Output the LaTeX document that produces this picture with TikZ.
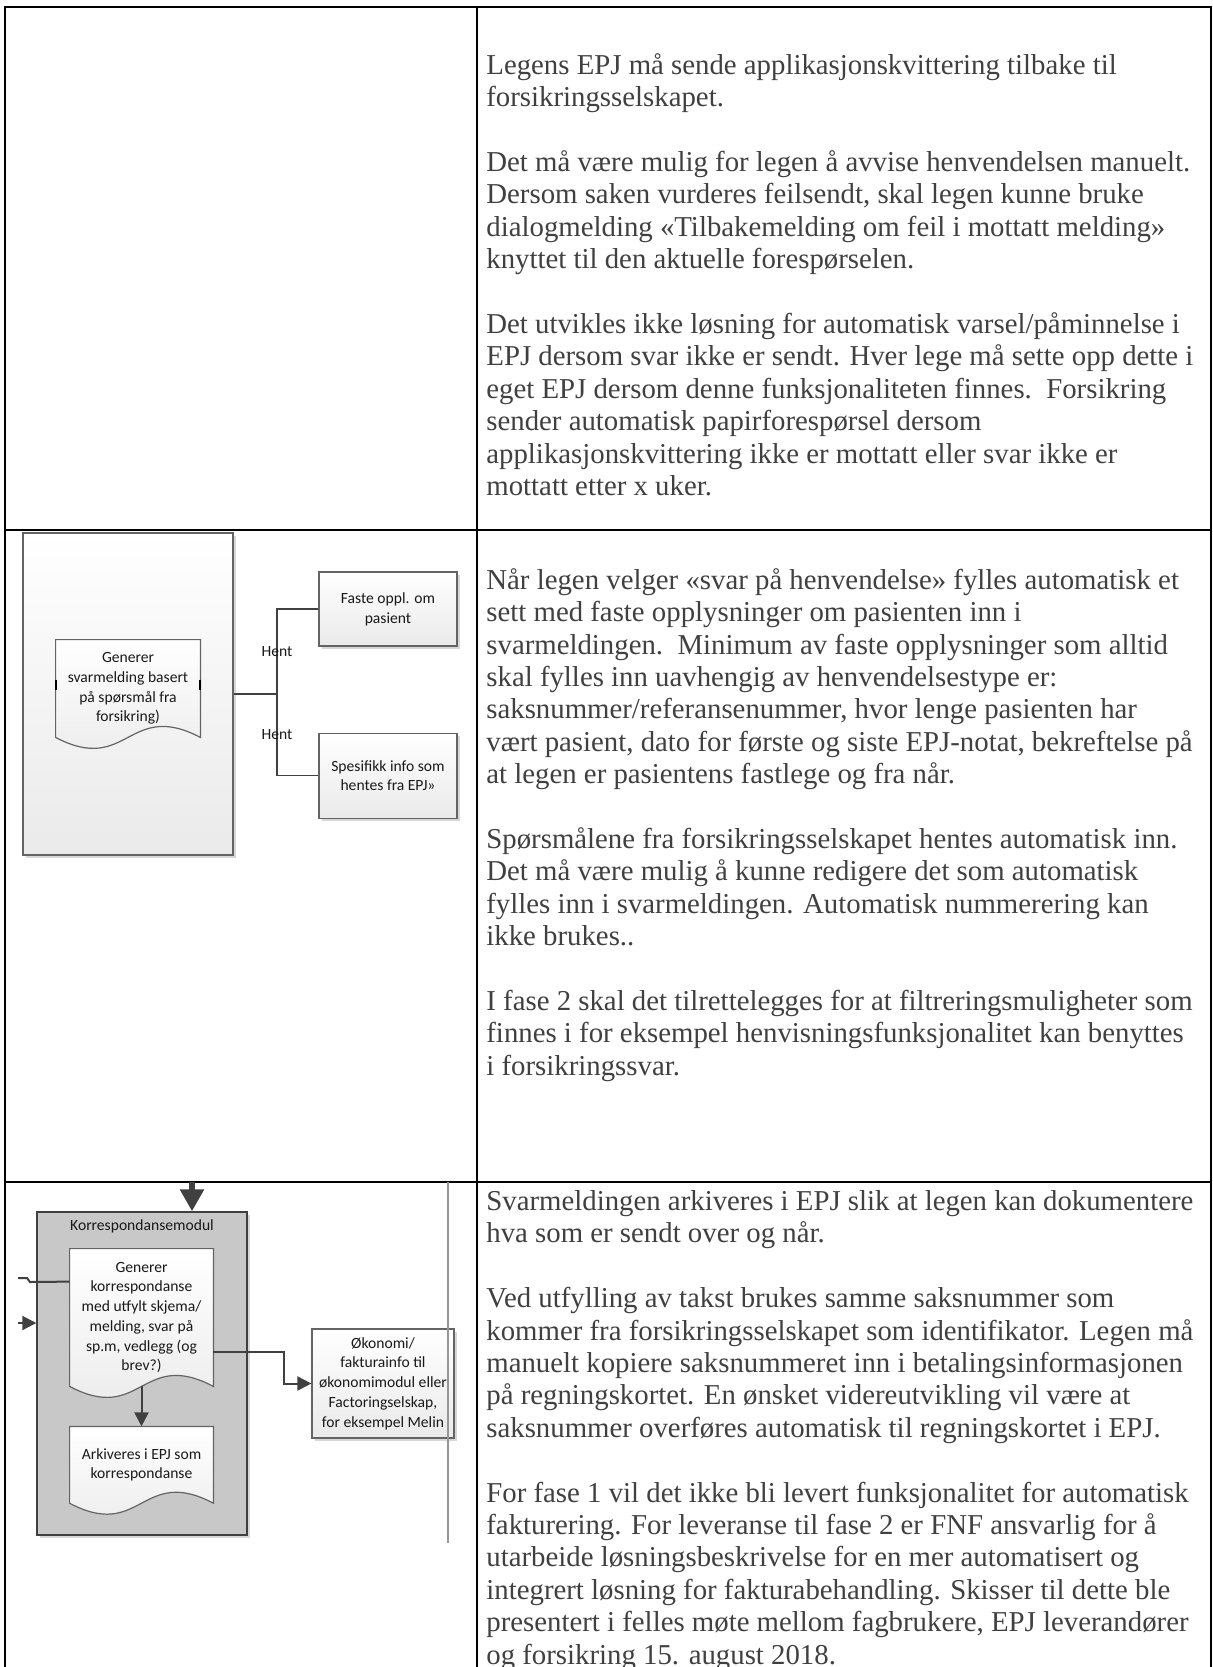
\documentclass[tikz,border=0pt]{standalone}
\usepackage{fontspec}
\usepackage{tikz}
\usetikzlibrary{arrows.meta, positioning, calc, shadows, backgrounds}
\setmainfont{Liberation Serif}
\newfontfamily\flowfont{Carlito}
\definecolor{bodygray}{RGB}{64,64,64}
\definecolor{flowdark}{RGB}{64,64,64}
\definecolor{flowtxt}{RGB}{25,25,25}
\definecolor{boxedge}{RGB}{100,100,100}
\definecolor{boxlight}{RGB}{234,234,234}
\definecolor{modgray}{RGB}{200,200,200}
\definecolor{shadegray}{RGB}{215,215,215}
\definecolor{lanegray}{RGB}{150,150,150}
\newcommand{\flowtext}{\flowfont\fontsize{7.8pt}{9.9pt}\selectfont}
\newcommand{\docwave}[1]{%
  \draw[docshape] (#1.north west) -- (#1.north east) -- (#1.south east)
    .. controls ($(#1.south)+(0,-38)$) and ($(#1.south)+(0,38)$) .. (#1.south west) -- cycle;}
\tikzset{
  bodytext/.style={anchor=north west, inner sep=0pt, align=left, text=bodygray,
    font=\fontsize{14.4pt}{16.2pt}\selectfont},
  tableline/.style={line width=1pt, draw=black, line cap=rect},
  laneline/.style={line width=0.6pt, draw=lanegray},
  flowbox/.style={rectangle, draw=boxedge, line width=0.6pt, top color=white,
    bottom color=boxlight, align=center, font=\flowtext, text=flowtxt, inner sep=2pt,
    drop shadow={shadow xshift=1.5pt, shadow yshift=-1.5pt, fill=shadegray, opacity=1}},
  framebox/.style={rectangle, draw=boxedge, line width=0.6pt, top color=white,
    bottom color=boxlight, drop shadow={shadow xshift=1.5pt, shadow yshift=-1.5pt,
    fill=shadegray, opacity=1}},
  modbox/.style={rectangle, draw=flowdark, line width=0.7pt, fill=modgray,
    drop shadow={shadow xshift=1.5pt, shadow yshift=-1.5pt, fill=shadegray, opacity=1}},
  docnode/.style={rectangle, inner sep=0pt, align=center, font=\flowtext, text=flowtxt},
  docshape/.style={draw=boxedge, line width=0.6pt, top color=white, bottom color=boxlight},
  hent/.style={font=\flowtext, text=flowtxt, inner sep=1pt},
  treeline/.style={line width=0.7pt, draw=flowdark},
  flowline/.style={line width=1pt, draw=flowdark},
  flowarrow/.style={-{Triangle[width=7pt, length=7pt]}, line width=1pt, draw=flowdark},
  bigarrow/.style={-{Triangle[width=11.5pt, length=11pt]}, line width=3pt, draw=flowdark}
}

\begin{document}
\begin{tikzpicture}[x=0.5pt, y=-0.5pt]
  \useasboundingbox (0,0) rectangle (1212,1667);
  % backdrop and the two large frames
  \begin{scope}[on background layer]
    \fill[white] (0,0) rectangle (1212,1667);
    \node[framebox, minimum width=105pt, minimum height=161pt] (svarframe) at (128,694) {};
    \node[modbox, minimum width=105pt, minimum height=161.5pt,
      label={[font=\flowtext, text=flowtxt, anchor=north, inner sep=4pt]north:Korrespondansemodul}] (korr) at (142,1373.5) {};
  \end{scope}

  % table grid
  \draw[tableline] (5,7) -- (1210.5,7);
  \draw[tableline] (5,530) -- (1210.5,530);
  \draw[tableline] (5,1182) -- (1210.5,1182);
  \draw[tableline] (5,7) -- (5,1667);
  \draw[tableline] (477,7) -- (477,1667);
  \draw[tableline] (1210.5,7) -- (1210.5,1667);

  % row 2: answer message
  \node[docnode, minimum width=72pt, minimum height=48.5pt] (svar) at (128,688.5) {Generer\\svarmelding basert\\på spørsmål fra\\forsikring)};
  \node[flowbox, minimum width=69pt, minimum height=37pt] (faste) at (388,609) {Faste oppl. om\\pasient};
  \node[flowbox, minimum width=69pt, minimum height=42.5pt, below=43pt of faste] (spes) {Spesifikk info som\\hentes fra EPJ»};

  \coordinate (hub) at (277,694);
  \draw[treeline] (svarframe.east) -- (hub);
  \draw[treeline] (hub) |- node[hent, pos=0.25] {Hent} (faste.west);
  \draw[treeline] (hub) |- node[hent, pos=0.25] {Hent} (spes.west);
  \draw[line width=1pt] ($(svar.west)+(0,-9)$) -- ++(0,10);
  \draw[line width=1pt] ($(svar.east)+(0,-9)$) -- ++(0,10);

  % row 3: correspondence module
  \node[docnode, minimum width=71.5pt, minimum height=68.5pt] (gen) at (141.5,1317.5) {Generer\\korrespondanse\\med utfylt skjema/\\melding, svar på\\sp.m, vedlegg (og\\brev?)};
  \node[docnode, minimum width=71.5pt, minimum height=38pt, below=20pt of gen] (ark) {Arkiveres i EPJ som\\korrespondanse};
  \node[flowbox, minimum width=71pt, minimum height=54.5pt] (okon) at (383,1383.5) {Økonomi/\\fakturainfo til\\økonomimodul eller\\Factoringselskap,\\for eksempel Melin};

  \begin{scope}[on background layer]
    \docwave{svar}
    \docwave{gen}
    \docwave{ark}
  \end{scope}

  \coordinate (feedtop) at (192,1182);
  \draw[bigarrow] (feedtop) -- (feedtop |- korr.north);
  \coordinate (sidein) at (18,1278);
  \draw[flowline] (sidein) -- ++(9,0) -- ++(3,4) -- ($(gen.north west)+(0,33)$);
  \coordinate (sidearrow) at (18,1323);
  \draw[flowarrow] (sidearrow) -- (sidearrow -| korr.west);
  \draw[flowarrow] (gen.south) -- (ark.north);
  \draw[flowarrow] ($(gen.south east)+(0,-34)$) -- ++(71,0) |- (okon.west);
  \coordinate (lanetop) at (448,1182);
  \coordinate (lanebot) at (448,1543);
  \draw[laneline] (lanetop) -- (lanebot);

  % right column text
  \node[bodytext] (rowone) at (486,53) {Legens EPJ må sende applikasjonskvittering tilbake til\\
    forsikringsselskapet.\\[16.2pt]
    Det må være mulig for legen å avvise henvendelsen manuelt.\\
    Dersom saken vurderes feilsendt, skal legen kunne bruke\\
    dialogmelding «Tilbakemelding om feil i mottatt melding»\\
    knyttet til den aktuelle forespørselen.\\[16.2pt]
    Det utvikles ikke løsning for automatisk varsel/påminnelse i\\
    EPJ dersom svar ikke er sendt. Hver lege må sette opp dette i\\
    eget EPJ dersom denne funksjonaliteten finnes.\ \ Forsikring\\
    sender automatisk papirforespørsel dersom\\
    applikasjonskvittering ikke er mottatt eller svar ikke er\\
    mottatt etter x uker.};
  \node[bodytext] (rowtwo) at (486,568) {Når legen velger «svar på henvendelse» fylles automatisk et\\
    sett med faste opplysninger om pasienten inn i\\
    svarmeldingen.\ \ Minimum av faste opplysninger som alltid\\
    skal fylles inn uavhengig av henvendelsestype er:\\
    saksnummer/referansenummer, hvor lenge pasienten har\\
    vært pasient, dato for første og siste EPJ-notat, bekreftelse på\\
    at legen er pasientens fastlege og fra når.\\[16.2pt]
    Spørsmålene fra forsikringsselskapet hentes automatisk inn.\\
    Det må være mulig å kunne redigere det som automatisk\\
    fylles inn i svarmeldingen. Automatisk nummerering kan\\
    ikke brukes..\\[16.2pt]
    I fase 2 skal det tilrettelegges for at filtreringsmuligheter som\\
    finnes i for eksempel henvisningsfunksjonalitet kan benyttes\\
    i forsikringssvar.};
  \node[bodytext] (rowthree) at (486,1190) {Svarmeldingen arkiveres i EPJ slik at legen kan dokumentere\\
    hva som er sendt over og når.\\[16.2pt]
    Ved utfylling av takst brukes samme saksnummer som\\
    kommer fra forsikringsselskapet som identifikator. Legen må\\
    manuelt kopiere saksnummeret inn i betalingsinformasjonen\\
    på regningskortet. En ønsket videreutvikling vil være at\\
    saksnummer overføres automatisk til regningskortet i EPJ.\\[16.2pt]
    For fase 1 vil det ikke bli levert funksjonalitet for automatisk\\
    fakturering. For leveranse til fase 2 er FNF ansvarlig for å\\
    utarbeide løsningsbeskrivelse for en mer automatisert og\\
    integrert løsning for fakturabehandling. Skisser til dette ble\\
    presentert i felles møte mellom fagbrukere, EPJ leverandører\\
    og forsikring 15. august 2018.};
\end{tikzpicture}
\end{document}
